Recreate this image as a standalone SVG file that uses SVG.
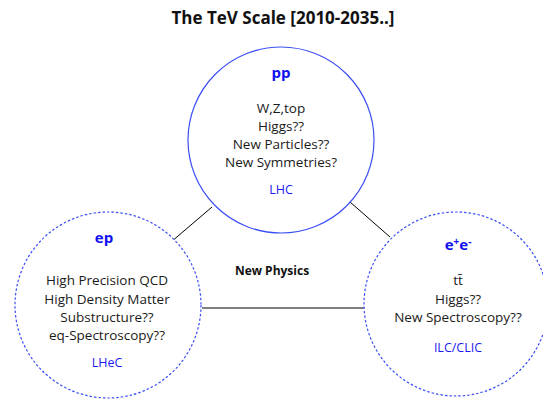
<svg xmlns="http://www.w3.org/2000/svg" width="543" height="401" viewBox="0 0 543 401">
<style>
text{font-family:"Open Sans","Liberation Sans",sans-serif;text-anchor:middle;}
.t{font-size:13.5px;fill:#1a1a1a;}
.h{font-size:15px;font-weight:bold;fill:#1010f0;}
.l{font-size:12.5px;fill:#1a1af0;}
.c{fill:#fff;stroke:#3b4ef5;stroke-width:1.2;}
.d{stroke-dasharray:2.5 2;}
.e{stroke:#000;stroke-width:1;fill:none;}
</style>
<rect width="543" height="401" fill="#fff"/>
<text x="283" y="24" style="font-size:17px;font-weight:bold;fill:#111;">The TeV Scale [2010-2035..]</text>
<g id="connectors">
<line class="e" x1="171" y1="242" x2="212" y2="207"/>
<line class="e" x1="350" y1="202" x2="390" y2="237"/>
<line class="e" x1="202" y1="308" x2="365" y2="308"/>
</g>
<g id="pp">
<circle class="c" cx="281" cy="140" r="93"/>
<text class="h" x="281" y="78">pp</text>
<text class="t" x="281" y="113">W,Z,top</text>
<text class="t" x="281" y="131">Higgs??</text>
<text class="t" x="281" y="149">New Particles??</text>
<text class="t" x="281" y="167">New Symmetries?</text>
<text class="l" x="281" y="194">LHC</text>
</g>
<g id="ep">
<circle class="c d" cx="108" cy="305" r="93"/>
<text class="h" x="104" y="243">ep</text>
<text class="t" x="107" y="285">High Precision QCD</text>
<text class="t" x="107" y="304">High Density Matter</text>
<text class="t" x="107" y="322">Substructure??</text>
<text class="t" x="107" y="340">eq-Spectroscopy??</text>
<text class="l" x="107" y="367">LHeC</text>
</g>
<g id="ee">
<circle class="c d" cx="456" cy="304" r="92"/>
<text class="h" x="458" y="250">e<tspan dy="-5" font-size="10">+</tspan><tspan dy="5">e</tspan><tspan dy="-5" font-size="10">-</tspan></text>
<text class="t" x="458" y="285">tt̄</text>
<text class="t" x="458" y="304">Higgs??</text>
<text class="t" x="458" y="322">New Spectroscopy??</text>
<text class="l" x="458" y="352">ILC/CLIC</text>
</g>
<g id="newphysics">
<text x="272" y="275" style="font-size:12px;font-weight:bold;fill:#111;">New Physics</text>
</g>
</svg>
